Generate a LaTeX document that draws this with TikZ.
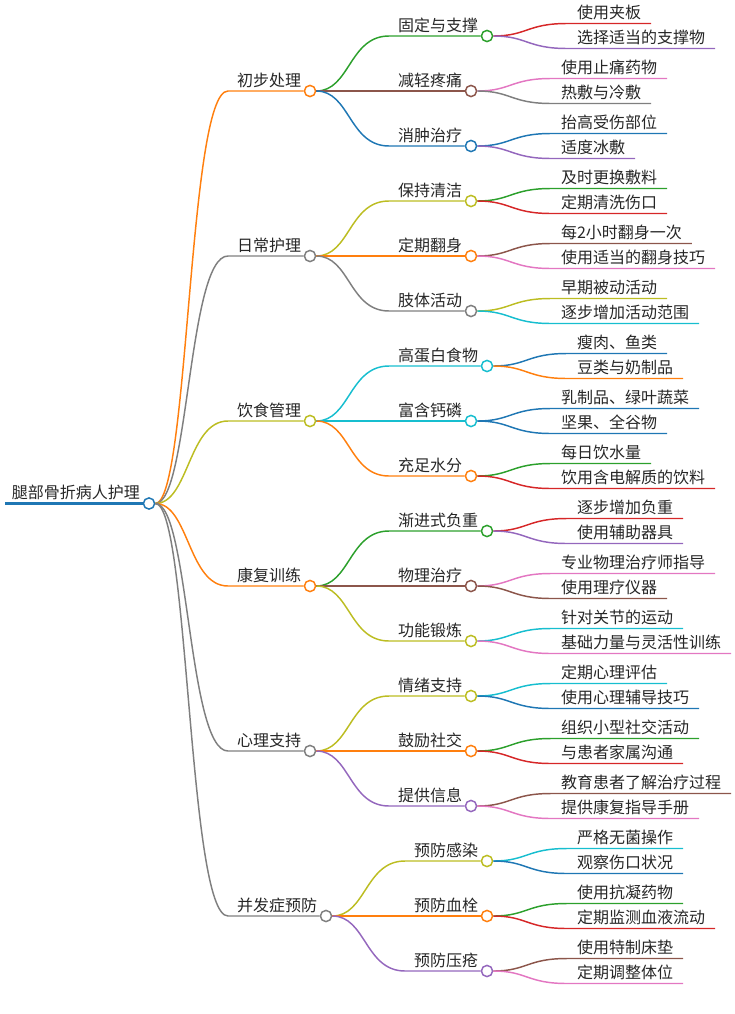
\documentclass[tikz,border=0pt]{standalone}
\usepackage{fontspec}
\setmainfont{Noto Sans CJK SC}

\definecolor{cblue}{HTML}{1F77B4}
\definecolor{corange}{HTML}{FF7F0E}
\definecolor{cgreen}{HTML}{2CA02C}
\definecolor{cred}{HTML}{D62728}
\definecolor{cpurple}{HTML}{9467BD}
\definecolor{cbrown}{HTML}{8C564B}
\definecolor{cpink}{HTML}{E377C2}
\definecolor{cgray}{HTML}{7F7F7F}
\definecolor{colive}{HTML}{BCBD22}
\definecolor{ccyan}{HTML}{17BECF}

\tikzset{
    edge/.style={line width=1.1pt},
    dot/.style={circle, draw, fill=white, line width=1.1pt, minimum size=8.4pt, inner sep=0pt},
    lbl/.style={font=\fontsize{12pt}{14pt}\selectfont, text=black!85, inner xsep=0pt, inner ysep=3.75pt, text depth=0pt, outer sep=0pt},
    leaf/.style={lbl, inner xsep=7.5pt, anchor=south west},
}

\begin{document}
\begin{tikzpicture}[x=0.75pt, y=-0.75pt]
        \useasboundingbox (0,0) rectangle (735,1014);

        % root
        \coordinate (r0) at (5,503.5);
        \node[dot, draw=cblue] (r) at (149,503.5) {};
        \node[lbl, anchor=south west] (rt) at (12,503.5) {腿部骨折病人护理};
        \draw[cblue, line width=2.6pt] (r0) -- (r);

        % first level
        \coordinate (a1s) at (228,91);
        \coordinate (a2s) at (228,256);
        \coordinate (a3s) at (228,421);
        \coordinate (a4s) at (228,586);
        \coordinate (a5s) at (228,751);
        \coordinate (a6s) at (228,916);
        \node[dot, draw=corange] (a1) at (310,91) {};
        \node[dot, draw=cgray] (a2) at (310,256) {};
        \node[dot, draw=colive] (a3) at (310,421) {};
        \node[dot, draw=corange] (a4) at (310,586) {};
        \node[dot, draw=cgray] (a5) at (310,751) {};
        \node[dot, draw=cgray] (a6) at (326,916) {};
        \node[lbl, anchor=south east] (a1t) at ([xshift=-6.75pt]a1.center) {初步处理};
        \node[lbl, anchor=south east] (a2t) at ([xshift=-6.75pt]a2.center) {日常护理};
        \node[lbl, anchor=south east] (a3t) at ([xshift=-6.75pt]a3.center) {饮食管理};
        \node[lbl, anchor=south east] (a4t) at ([xshift=-6.75pt]a4.center) {康复训练};
        \node[lbl, anchor=south east] (a5t) at ([xshift=-6.75pt]a5.center) {心理支持};
        \node[lbl, anchor=south east] (a6t) at ([xshift=-6.75pt]a6.center) {并发症预防};
        \draw[edge, corange] (r) .. controls +(40,0) and +(-40,0) .. (a1s) -- (a1);
        \draw[edge, cgray] (r) .. controls +(40,0) and +(-40,0) .. (a2s) -- (a2);
        \draw[edge, colive] (r) .. controls +(40,0) and +(-40,0) .. (a3s) -- (a3);
        \draw[edge, corange] (r) .. controls +(40,0) and +(-40,0) .. (a4s) -- (a4);
        \draw[edge, cgray] (r) .. controls +(40,0) and +(-40,0) .. (a5s) -- (a5);
        \draw[edge, cgray] (r) .. controls +(40,0) and +(-40,0) .. (a6s) -- (a6);

        % second level
        \coordinate (b1s) at (389,36);
        \coordinate (b2s) at (389,91);
        \coordinate (b3s) at (389,146);
        \coordinate (b4s) at (389,201);
        \coordinate (b5s) at (389,256);
        \coordinate (b6s) at (389,311);
        \coordinate (b7s) at (389,366);
        \coordinate (b8s) at (389,421);
        \coordinate (b9s) at (389,476);
        \coordinate (b10s) at (389,531);
        \coordinate (b11s) at (389,586);
        \coordinate (b12s) at (389,641);
        \coordinate (b13s) at (389,696);
        \coordinate (b14s) at (389,751);
        \coordinate (b15s) at (389,806);
        \coordinate (b16s) at (405,861);
        \coordinate (b17s) at (405,916);
        \coordinate (b18s) at (405,971);
        \node[dot, draw=cgreen] (b1) at (487,36) {};
        \node[dot, draw=cbrown] (b2) at (471,91) {};
        \node[dot, draw=cblue] (b3) at (471,146) {};
        \node[dot, draw=colive] (b4) at (471,201) {};
        \node[dot, draw=corange] (b5) at (471,256) {};
        \node[dot, draw=cgray] (b6) at (471,311) {};
        \node[dot, draw=ccyan] (b7) at (487,366) {};
        \node[dot, draw=ccyan] (b8) at (471,421) {};
        \node[dot, draw=corange] (b9) at (471,476) {};
        \node[dot, draw=cgreen] (b10) at (487,531) {};
        \node[dot, draw=cbrown] (b11) at (471,586) {};
        \node[dot, draw=colive] (b12) at (471,641) {};
        \node[dot, draw=colive] (b13) at (471,696) {};
        \node[dot, draw=corange] (b14) at (471,751) {};
        \node[dot, draw=cpurple] (b15) at (471,806) {};
        \node[dot, draw=colive] (b16) at (487,861) {};
        \node[dot, draw=corange] (b17) at (487,916) {};
        \node[dot, draw=cpurple] (b18) at (487,971) {};
        \node[lbl, anchor=south east] (b1t) at ([xshift=-6.75pt]b1.center) {固定与支撑};
        \node[lbl, anchor=south east] (b2t) at ([xshift=-6.75pt]b2.center) {减轻疼痛};
        \node[lbl, anchor=south east] (b3t) at ([xshift=-6.75pt]b3.center) {消肿治疗};
        \node[lbl, anchor=south east] (b4t) at ([xshift=-6.75pt]b4.center) {保持清洁};
        \node[lbl, anchor=south east] (b5t) at ([xshift=-6.75pt]b5.center) {定期翻身};
        \node[lbl, anchor=south east] (b6t) at ([xshift=-6.75pt]b6.center) {肢体活动};
        \node[lbl, anchor=south east] (b7t) at ([xshift=-6.75pt]b7.center) {高蛋白食物};
        \node[lbl, anchor=south east] (b8t) at ([xshift=-6.75pt]b8.center) {富含钙磷};
        \node[lbl, anchor=south east] (b9t) at ([xshift=-6.75pt]b9.center) {充足水分};
        \node[lbl, anchor=south east] (b10t) at ([xshift=-6.75pt]b10.center) {渐进式负重};
        \node[lbl, anchor=south east] (b11t) at ([xshift=-6.75pt]b11.center) {物理治疗};
        \node[lbl, anchor=south east] (b12t) at ([xshift=-6.75pt]b12.center) {功能锻炼};
        \node[lbl, anchor=south east] (b13t) at ([xshift=-6.75pt]b13.center) {情绪支持};
        \node[lbl, anchor=south east] (b14t) at ([xshift=-6.75pt]b14.center) {鼓励社交};
        \node[lbl, anchor=south east] (b15t) at ([xshift=-6.75pt]b15.center) {提供信息};
        \node[lbl, anchor=south east] (b16t) at ([xshift=-6.75pt]b16.center) {预防感染};
        \node[lbl, anchor=south east] (b17t) at ([xshift=-6.75pt]b17.center) {预防血栓};
        \node[lbl, anchor=south east] (b18t) at ([xshift=-6.75pt]b18.center) {预防压疮};
        \draw[edge, cgreen] (a1) .. controls +(40,0) and +(-40,0) .. (b1s) -- (b1);
        \draw[edge, cbrown] (a1) .. controls +(40,0) and +(-40,0) .. (b2s) -- (b2);
        \draw[edge, cblue] (a1) .. controls +(40,0) and +(-40,0) .. (b3s) -- (b3);
        \draw[edge, colive] (a2) .. controls +(40,0) and +(-40,0) .. (b4s) -- (b4);
        \draw[edge, corange] (a2) .. controls +(40,0) and +(-40,0) .. (b5s) -- (b5);
        \draw[edge, cgray] (a2) .. controls +(40,0) and +(-40,0) .. (b6s) -- (b6);
        \draw[edge, ccyan] (a3) .. controls +(40,0) and +(-40,0) .. (b7s) -- (b7);
        \draw[edge, ccyan] (a3) .. controls +(40,0) and +(-40,0) .. (b8s) -- (b8);
        \draw[edge, corange] (a3) .. controls +(40,0) and +(-40,0) .. (b9s) -- (b9);
        \draw[edge, cgreen] (a4) .. controls +(40,0) and +(-40,0) .. (b10s) -- (b10);
        \draw[edge, cbrown] (a4) .. controls +(40,0) and +(-40,0) .. (b11s) -- (b11);
        \draw[edge, colive] (a4) .. controls +(40,0) and +(-40,0) .. (b12s) -- (b12);
        \draw[edge, colive] (a5) .. controls +(40,0) and +(-40,0) .. (b13s) -- (b13);
        \draw[edge, corange] (a5) .. controls +(40,0) and +(-40,0) .. (b14s) -- (b14);
        \draw[edge, cpurple] (a5) .. controls +(40,0) and +(-40,0) .. (b15s) -- (b15);
        \draw[edge, colive] (a6) .. controls +(40,0) and +(-40,0) .. (b16s) -- (b16);
        \draw[edge, corange] (a6) .. controls +(40,0) and +(-40,0) .. (b17s) -- (b17);
        \draw[edge, cpurple] (a6) .. controls +(40,0) and +(-40,0) .. (b18s) -- (b18);

        % third level
        \node[leaf] (c1) at (567,23.5) {使用夹板};
        \node[leaf] (c2) at (567,48.5) {选择适当的支撑物};
        \node[leaf] (c3) at (551,78.5) {使用止痛药物};
        \node[leaf] (c4) at (551,103.5) {热敷与冷敷};
        \node[leaf] (c5) at (551,133.5) {抬高受伤部位};
        \node[leaf] (c6) at (551,158.5) {适度冰敷};
        \node[leaf] (c7) at (551,188.5) {及时更换敷料};
        \node[leaf] (c8) at (551,213.5) {定期清洗伤口};
        \node[leaf] (c9) at (551,243.5) {每2小时翻身一次};
        \node[leaf] (c10) at (551,268.5) {使用适当的翻身技巧};
        \node[leaf] (c11) at (551,298.5) {早期被动活动};
        \node[leaf] (c12) at (551,323.5) {逐步增加活动范围};
        \node[leaf] (c13) at (567,353.5) {瘦肉、鱼类};
        \node[leaf] (c14) at (567,378.5) {豆类与奶制品};
        \node[leaf] (c15) at (551,408.5) {乳制品、绿叶蔬菜};
        \node[leaf] (c16) at (551,433.5) {坚果、全谷物};
        \node[leaf] (c17) at (551,463.5) {每日饮水量};
        \node[leaf] (c18) at (551,488.5) {饮用含电解质的饮料};
        \node[leaf] (c19) at (567,518.5) {逐步增加负重};
        \node[leaf] (c20) at (567,543.5) {使用辅助器具};
        \node[leaf] (c21) at (551,573.5) {专业物理治疗师指导};
        \node[leaf] (c22) at (551,598.5) {使用理疗仪器};
        \node[leaf] (c23) at (551,628.5) {针对关节的运动};
        \node[leaf] (c24) at (551,653.5) {基础力量与灵活性训练};
        \node[leaf] (c25) at (551,683.5) {定期心理评估};
        \node[leaf] (c26) at (551,708.5) {使用心理辅导技巧};
        \node[leaf] (c27) at (551,738.5) {组织小型社交活动};
        \node[leaf] (c28) at (551,763.5) {与患者家属沟通};
        \node[leaf] (c29) at (551,793.5) {教育患者了解治疗过程};
        \node[leaf] (c30) at (551,818.5) {提供康复指导手册};
        \node[leaf] (c31) at (567,848.5) {严格无菌操作};
        \node[leaf] (c32) at (567,873.5) {观察伤口状况};
        \node[leaf] (c33) at (567,903.5) {使用抗凝药物};
        \node[leaf] (c34) at (567,928.5) {定期监测血液流动};
        \node[leaf] (c35) at (567,958.5) {使用特制床垫};
        \node[leaf] (c36) at (567,983.5) {定期调整体位};
        \draw[edge, cred] (b1) .. controls +(40,0) and +(-40,0) .. (c1.south west) -- (c1.south east);
        \draw[edge, cpurple] (b1) .. controls +(40,0) and +(-40,0) .. (c2.south west) -- (c2.south east);
        \draw[edge, cpink] (b2) .. controls +(40,0) and +(-40,0) .. (c3.south west) -- (c3.south east);
        \draw[edge, cgray] (b2) .. controls +(40,0) and +(-40,0) .. (c4.south west) -- (c4.south east);
        \draw[edge, cblue] (b3) .. controls +(40,0) and +(-40,0) .. (c5.south west) -- (c5.south east);
        \draw[edge, cpurple] (b3) .. controls +(40,0) and +(-40,0) .. (c6.south west) -- (c6.south east);
        \draw[edge, cgreen] (b4) .. controls +(40,0) and +(-40,0) .. (c7.south west) -- (c7.south east);
        \draw[edge, cred] (b4) .. controls +(40,0) and +(-40,0) .. (c8.south west) -- (c8.south east);
        \draw[edge, cbrown] (b5) .. controls +(40,0) and +(-40,0) .. (c9.south west) -- (c9.south east);
        \draw[edge, cpink] (b5) .. controls +(40,0) and +(-40,0) .. (c10.south west) -- (c10.south east);
        \draw[edge, colive] (b6) .. controls +(40,0) and +(-40,0) .. (c11.south west) -- (c11.south east);
        \draw[edge, ccyan] (b6) .. controls +(40,0) and +(-40,0) .. (c12.south west) -- (c12.south east);
        \draw[edge, cblue] (b7) .. controls +(40,0) and +(-40,0) .. (c13.south west) -- (c13.south east);
        \draw[edge, corange] (b7) .. controls +(40,0) and +(-40,0) .. (c14.south west) -- (c14.south east);
        \draw[edge, cblue] (b8) .. controls +(40,0) and +(-40,0) .. (c15.south west) -- (c15.south east);
        \draw[edge, cblue] (b8) .. controls +(40,0) and +(-40,0) .. (c16.south west) -- (c16.south east);
        \draw[edge, cgreen] (b9) .. controls +(40,0) and +(-40,0) .. (c17.south west) -- (c17.south east);
        \draw[edge, cred] (b9) .. controls +(40,0) and +(-40,0) .. (c18.south west) -- (c18.south east);
        \draw[edge, cred] (b10) .. controls +(40,0) and +(-40,0) .. (c19.south west) -- (c19.south east);
        \draw[edge, cpurple] (b10) .. controls +(40,0) and +(-40,0) .. (c20.south west) -- (c20.south east);
        \draw[edge, cpink] (b11) .. controls +(40,0) and +(-40,0) .. (c21.south west) -- (c21.south east);
        \draw[edge, cbrown] (b11) .. controls +(40,0) and +(-40,0) .. (c22.south west) -- (c22.south east);
        \draw[edge, ccyan] (b12) .. controls +(40,0) and +(-40,0) .. (c23.south west) -- (c23.south east);
        \draw[edge, cpink] (b12) .. controls +(40,0) and +(-40,0) .. (c24.south west) -- (c24.south east);
        \draw[edge, ccyan] (b13) .. controls +(40,0) and +(-40,0) .. (c25.south west) -- (c25.south east);
        \draw[edge, cblue] (b13) .. controls +(40,0) and +(-40,0) .. (c26.south west) -- (c26.south east);
        \draw[edge, cgreen] (b14) .. controls +(40,0) and +(-40,0) .. (c27.south west) -- (c27.south east);
        \draw[edge, cred] (b14) .. controls +(40,0) and +(-40,0) .. (c28.south west) -- (c28.south east);
        \draw[edge, cbrown] (b15) .. controls +(40,0) and +(-40,0) .. (c29.south west) -- (c29.south east);
        \draw[edge, cpink] (b15) .. controls +(40,0) and +(-40,0) .. (c30.south west) -- (c30.south east);
        \draw[edge, ccyan] (b16) .. controls +(40,0) and +(-40,0) .. (c31.south west) -- (c31.south east);
        \draw[edge, cblue] (b16) .. controls +(40,0) and +(-40,0) .. (c32.south west) -- (c32.south east);
        \draw[edge, cgreen] (b17) .. controls +(40,0) and +(-40,0) .. (c33.south west) -- (c33.south east);
        \draw[edge, cred] (b17) .. controls +(40,0) and +(-40,0) .. (c34.south west) -- (c34.south east);
        \draw[edge, cbrown] (b18) .. controls +(40,0) and +(-40,0) .. (c35.south west) -- (c35.south east);
        \draw[edge, cpink] (b18) .. controls +(40,0) and +(-40,0) .. (c36.south west) -- (c36.south east);

\end{tikzpicture}
\end{document}
